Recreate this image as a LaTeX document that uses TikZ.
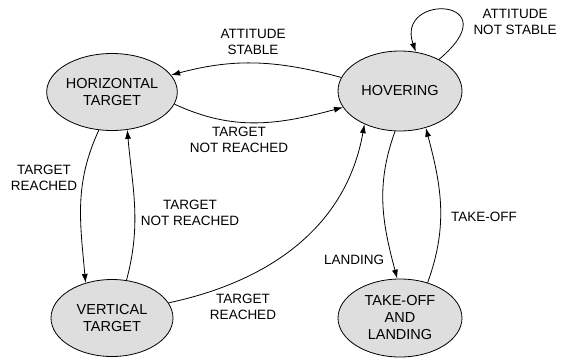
\documentclass[tikz,border=0pt]{standalone}
\usepackage{fontspec}
\setmainfont{Liberation Sans}
\usetikzlibrary{shapes.geometric,arrows.meta}

\tikzset{
  stato/.style={ellipse, draw, fill=black!13, minimum width=122pt, minimum height=77pt,
    inner sep=0pt, align=center, font=\fontsize{14.5}{17}\selectfont},
  etichetta/.style={align=center, inner sep=0pt},
  freccia/.style={-{Latex[length=9pt,width=6pt]}}
}

\begin{document}
\begin{tikzpicture}[x=1pt, y=-1pt, line width=0.8pt,
  font=\fontsize{13.5}{16}\selectfont]
\useasboundingbox (0,0) rectangle (564,358);

% Stati
\node[stato] (hor) at (112,92) {HORIZONTAL\\TARGET};
\node[stato, minimum width=124pt, minimum height=80pt] (hov) at (400,91) {HOVERING};
\node[stato] (ver) at (112,318) {VERTICAL\\TARGET};
\node[stato, minimum width=124pt, minimum height=78pt] (tol) at (400,318) {TAKE-OFF\\AND\\LANDING};

% Etichette
\node[etichetta] (lstable) at (253,42) {ATTITUDE\\STABLE};
\node[etichetta] (lnotstable) at (515,22) {ATTITUDE\\NOT STABLE};
\node[etichetta] (lnotreached1) at (239,140) {TARGET\\NOT REACHED};
\node[etichetta] (lreached1) at (44,178) {TARGET\\REACHED};
\node[etichetta] (lnotreached2) at (190,213) {TARGET\\NOT REACHED};
\node[etichetta] (lreached2) at (243,307) {TARGET\\REACHED};
\node[etichetta] (llanding) at (354,260) {LANDING};
\node[etichetta] (ltakeoff) at (484,217) {TAKE-OFF};

% Transizioni
\draw[freccia] (hov.167) to[out=165, in=15] (hor.16);
\draw[freccia] (hor.349) to[out=-25, in=195] (hov.196);
\draw[freccia] (hov.39) .. controls (512,-2) and (395,-8) .. (hov.68);
\draw[freccia] (hor.251) to[out=245, in=95] (ver.127);
\draw[freccia] (ver.69) to[out=75, in=-85] (hor.292);
\draw[freccia] (ver.15) to[out=12, in=-100] (hov.223);
\draw[freccia] (hov.263) to[out=-110, in=105] (tol.94);
\draw[freccia] (tol.52) to[out=70, in=-75] (hov.305);
\end{tikzpicture}
\end{document}
